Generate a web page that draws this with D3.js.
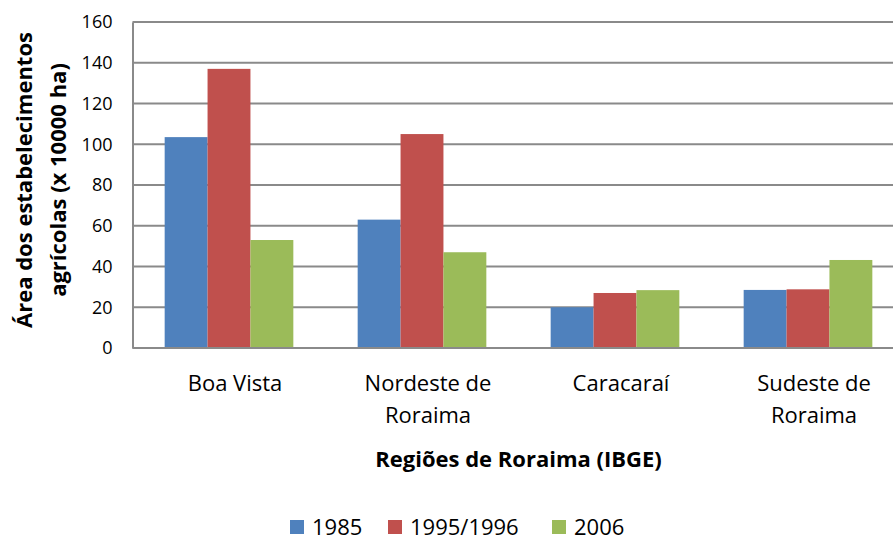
<!DOCTYPE html>
<meta charset="utf-8">
<style>
body{
    margin:0;
    background:#fff;
}
text{
    font-family:"Open Sans", sans-serif;
    fill:#000;
}
.tick text{
    font-size:18px;
}
.catLabel{
    font-size:22px;
    text-anchor:middle;
}
.title{
    font-size:22px;
    font-weight:bold;
    text-anchor:middle;
}
.legend text{
    font-size:22px;
}
.grid line{
    stroke:#8a8a8a;
    stroke-width:2px;
}
</style>
<body>
<div id='chart'></div>

<script src="https://d3js.org/d3.v7.min.js"></script>
<script>
// data
var regions = [["Boa Vista"], ["Nordeste de", "Roraima"], ["Caracaraí"], ["Sudeste de", "Roraima"]];
var years = ["1985", "1995/1996", "2006"];
var v1985 = [103.5, 63, 20, 28.5];
var v1995 = [137, 105, 27, 28.8];
var v2006 = [53, 47, 28.4, 43.2];
var yTicks = [0, 20, 40, 60, 80, 100, 120, 140, 160];
var colors = ["#4F81BD", "#C0504D", "#9BBB59"];

var series = [v1985, v1995, v2006];
var cats = regions.map(d => d.join(" "));

var W = 893, H = 541;
var m = {left: 132.5, right: 904.5, top: 22, bottom: 348};

var svg = d3.select("div#chart").append("svg").attr("width", W).attr("height", H);

var x0 = d3.scaleBand().domain(cats).range([m.left, m.right])
    .paddingInner(1/3).paddingOuter(1/6);
var x1 = d3.scaleBand().domain(years).range([0, x0.bandwidth()]);
var y = d3.scaleLinear().domain([0, 160]).range([m.bottom, m.top]);

// gridlines
svg.append("g").attr("class", "grid")
    .selectAll("line").data(yTicks.slice(1)).join("line")
    .attr("x1", m.left).attr("x2", m.right)
    .attr("y1", d => y(d)).attr("y2", d => y(d));

// bars
var groups = svg.selectAll("g.group").data(cats).join("g")
    .attr("class", "group")
    .attr("transform", d => "translate(" + x0(d) + ",0)");

groups.selectAll("rect")
    .data((d, i) => years.map((yr, j) => ({yr: yr, v: series[j][i], c: colors[j]})))
    .join("rect")
    .attr("x", d => x1(d.yr))
    .attr("width", x1.bandwidth())
    .attr("y", d => y(d.v))
    .attr("height", d => y(0) - y(d.v))
    .attr("fill", d => d.c);

// y axis
var yAxis = svg.append("g").attr("transform", "translate(" + m.left + ",0)")
    .call(d3.axisLeft(y).tickValues(yTicks).tickSize(0).tickPadding(20));
yAxis.select(".domain").attr("stroke", "#8a8a8a").attr("stroke-width", 2);

// x axis line
svg.append("line")
    .attr("x1", m.left).attr("x2", m.right)
    .attr("y1", y(0)).attr("y2", y(0))
    .attr("stroke", "#8a8a8a").attr("stroke-width", 2);

// category labels
regions.forEach(function(lines, i){
    var cx = x0(cats[i]) + x0.bandwidth() / 2 + 6;
    var t = svg.append("text").attr("class", "catLabel")
        .attr("x", cx).attr("y", 391);
    lines.forEach(function(l, k){
        t.append("tspan").attr("x", cx)
            .attr("dy", k == 0 ? 0 : 32).text(l);
    });
});

// axis titles
svg.append("text").attr("class", "title")
    .attr("x", (m.left + m.right) / 2).attr("y", 467)
    .text("Regiões de Roraima (IBGE)");

var yt = svg.append("text").attr("class", "title")
    .attr("transform", "translate(32,180) rotate(-90)");
yt.append("tspan").attr("x", 0).attr("y", 0).text("Área dos estabelecimentos");
yt.append("tspan").attr("x", 0).attr("y", 34).text("agrícolas (x 10000 ha)");

// legend
var legX = [290, 388, 552];
var leg = svg.append("g").attr("class", "legend");
years.forEach(function(yr, j){
    leg.append("rect").attr("x", legX[j]).attr("y", 520)
        .attr("width", 14).attr("height", 14).attr("fill", colors[j]);
    leg.append("text").attr("x", legX[j] + 22).attr("y", 535).text(yr);
});
</script>
</body>
</html>
